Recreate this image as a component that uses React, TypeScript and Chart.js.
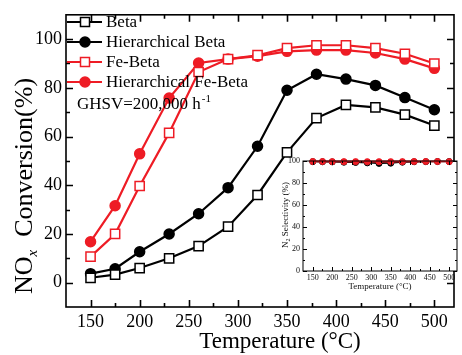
import React, { useEffect, useRef } from 'react';
import { Chart, registerables } from 'chart.js';

Chart.register(...registerables);

const temps = [150, 175, 200, 230, 260, 290, 320, 350, 380, 410, 440, 470, 500];
const seriesNames = ['Beta', 'Hierarchical Beta', 'Fe-Beta', 'Hierarchical Fe-Beta'];
const beta = [2, 3.3, 6, 10, 15, 23, 36, 53.5, 67.6, 73, 72, 69, 64.5];
const hierBeta = [3.7, 5.7, 12.7, 20, 28.3, 39, 56, 79, 85.6, 83.6, 81, 76, 71];
const feBeta = [10.7, 20, 39.7, 61.5, 86.5, 91.8, 93.4, 96.3, 97.5, 97.5, 96.3, 94, 90];
const hierFeBeta = [16.8, 31.6, 52.9, 75.8, 90.2, 91.8, 93, 95, 95.5, 95.5, 94.3, 91.8, 88];

const selBeta = [99.6, 99.5, 99.4, 99.3, 99.2, 99.0, 98.8, 98.9, 99.2, 99.4, 99.5, 99.6, 99.6];
const selHierBeta = [99.4, 99.3, 99.2, 98.9, 98.7, 98.3, 97.8, 98.0, 98.9, 99.3, 99.4, 99.5, 99.5];
const selFeBeta = [99.8, 99.8, 99.8, 99.8, 99.8, 99.8, 99.8, 99.8, 99.8, 99.8, 99.8, 99.8, 99.7];
const selHierFeBeta = [99.5, 99.5, 99.4, 99.4, 99.4, 99.3, 99.3, 99.3, 99.4, 99.5, 99.5, 99.5, 99.4];

const xTickValues = [150, 175, 200, 225, 250, 275, 300, 325, 350, 375, 400, 425, 450, 475, 500];
const yTickValues = [0, 10, 20, 30, 40, 50, 60, 70, 80, 90, 100];
const insetYTickValues = [0, 10, 20, 30, 40, 50, 60, 70, 80, 90, 100];

const RED = '#ee1c25';
const BLACK = '#000000';
const SERIF = "'Liberation Serif', 'Times New Roman', serif";

const styles = [
  { color: BLACK, shape: 'rect', filled: false },
  { color: BLACK, shape: 'circle', filled: true },
  { color: RED, shape: 'rect', filled: false },
  { color: RED, shape: 'circle', filled: true },
];

function makeDatasets(values: number[][], lw: number, rectR: number, circR: number, pbw: number, orders: number[]) {
  return values.map((vals, i) => {
    const s = styles[i];
    return {
      label: seriesNames[i],
      data: temps.map((t, k) => ({ x: t, y: vals[k] })),
      borderColor: s.color,
      backgroundColor: s.color,
      borderWidth: lw,
      pointStyle: s.shape,
      pointRadius: s.shape === 'rect' ? rectR : circR,
      pointBackgroundColor: s.filled ? s.color : '#ffffff',
      pointBorderColor: s.color,
      pointBorderWidth: pbw,
      tension: 0,
      order: orders[i],
      clip: false as any,
    };
  });
}

function drawFrame(chart: any, lw: number, major: number, minor: number, xMajorStep: number, yMajorStep: number) {
  const { ctx, chartArea: a, scales } = chart;
  const x = scales.x;
  const y = scales.y;
  ctx.save();
  ctx.strokeStyle = '#000';
  ctx.lineWidth = lw;
  ctx.strokeRect(a.left, a.top, a.right - a.left, a.bottom - a.top);
  ctx.beginPath();
  x.ticks.forEach((t: any) => {
    const px = Math.round(x.getPixelForValue(t.value)) + 0.5;
    const L = t.value % xMajorStep === 0 ? major : minor;
    ctx.moveTo(px, a.bottom);
    ctx.lineTo(px, a.bottom - L);
    ctx.moveTo(px, a.top);
    ctx.lineTo(px, a.top + L);
  });
  y.ticks.forEach((t: any) => {
    const py = Math.round(y.getPixelForValue(t.value)) + 0.5;
    const L = t.value % yMajorStep === 0 ? major : minor;
    ctx.moveTo(a.left, py);
    ctx.lineTo(a.left + L, py);
    ctx.moveTo(a.right, py);
    ctx.lineTo(a.right - L, py);
  });
  ctx.stroke();
  ctx.restore();
}

function drawMarker(ctx: CanvasRenderingContext2D, s: any, cx: number, cy: number, half: number, r: number, lw: number) {
  ctx.save();
  ctx.lineWidth = lw;
  ctx.strokeStyle = s.color;
  ctx.fillStyle = s.filled ? s.color : '#fff';
  ctx.beginPath();
  if (s.shape === 'rect') {
    ctx.rect(cx - half, cy - half, half * 2, half * 2);
  } else {
    ctx.arc(cx, cy, r, 0, Math.PI * 2);
  }
  ctx.fill();
  ctx.stroke();
  ctx.restore();
}

const mainPlugin = {
  id: 'mainDecor',
  afterDraw(chart: any) {
    const ctx: CanvasRenderingContext2D = chart.ctx;
    drawFrame(chart, 1.6, 7, 4, 50, 20);
    const rowsY = [22, 42, 62, 82];
    seriesNames.forEach((name, i) => {
      const s = styles[i];
      const yy = rowsY[i];
      ctx.save();
      ctx.strokeStyle = s.color;
      ctx.lineWidth = 2.2;
      ctx.beginPath();
      ctx.moveTo(67, yy);
      ctx.lineTo(102, yy);
      ctx.stroke();
      ctx.restore();
      drawMarker(ctx, s, 85, yy, 4.5, 5, 1.5);
      ctx.save();
      ctx.fillStyle = '#000';
      ctx.font = `17px ${SERIF}`;
      ctx.textBaseline = 'middle';
      ctx.textAlign = 'left';
      ctx.fillText(name, 106, yy + 1);
      ctx.restore();
    });
    ctx.save();
    ctx.fillStyle = '#000';
    ctx.font = `17px ${SERIF}`;
    ctx.textBaseline = 'middle';
    ctx.textAlign = 'left';
    const g = 'GHSV=200,000 h';
    ctx.fillText(g, 77, 105);
    const gw = ctx.measureText(g).width;
    ctx.font = `11px ${SERIF}`;
    ctx.fillText('-1', 77 + gw + 1, 99);
    ctx.restore();
    ctx.save();
    ctx.fillStyle = '#000';
    ctx.font = `23px ${SERIF}`;
    ctx.textAlign = 'center';
    ctx.textBaseline = 'alphabetic';
    ctx.fillText('Temperature (\u00b0C)', 280, 348);
    ctx.restore();
    ctx.save();
    ctx.translate(32, 186);
    ctx.rotate(-Math.PI / 2);
    ctx.fillStyle = '#000';
    ctx.textBaseline = 'alphabetic';
    ctx.textAlign = 'left';
    const big = `26px ${SERIF}`;
    const sub = `italic 15px ${SERIF}`;
    ctx.font = big;
    const w1 = ctx.measureText('NO').width;
    const w3 = ctx.measureText('  Conversion(%)').width;
    ctx.font = sub;
    const w2 = ctx.measureText('x').width;
    const total = w1 + w2 + w3;
    let cx = -total / 2;
    ctx.font = big;
    ctx.fillText('NO', cx, 0);
    cx += w1;
    ctx.font = sub;
    ctx.fillText('x', cx, 5);
    cx += w2;
    ctx.font = big;
    ctx.fillText('  Conversion(%)', cx, 0);
    ctx.restore();
  },
};

const insetPlugin = {
  id: 'insetDecor',
  beforeDraw(chart: any) {
    const { ctx, chartArea: a } = chart;
    ctx.save();
    ctx.fillStyle = '#fff';
    ctx.fillRect(a.left, a.top, a.right - a.left, a.bottom - a.top);
    ctx.restore();
  },
  afterDraw(chart: any) {
    const ctx: CanvasRenderingContext2D = chart.ctx;
    drawFrame(chart, 1, 4, 2, 50, 20);
    ctx.save();
    ctx.fillStyle = '#111';
    ctx.font = `9px ${SERIF}`;
    ctx.textAlign = 'center';
    ctx.textBaseline = 'middle';
    ctx.fillText('Temperature (\u00b0C)', 110, 137);
    ctx.restore();
    ctx.save();
    ctx.translate(18, 65);
    ctx.rotate(-Math.PI / 2);
    ctx.fillStyle = '#111';
    ctx.textBaseline = 'alphabetic';
    ctx.textAlign = 'left';
    const f1 = `9px ${SERIF}`;
    const f2 = `6px ${SERIF}`;
    ctx.font = f1;
    const a1 = ctx.measureText('N').width;
    const a3 = ctx.measureText(' Selectivity (%)').width;
    ctx.font = f2;
    const a2 = ctx.measureText('2').width;
    let px = -(a1 + a2 + a3) / 2;
    ctx.font = f1;
    ctx.fillText('N', px, 0);
    px += a1;
    ctx.font = f2;
    ctx.fillText('2', px, 2);
    px += a2;
    ctx.font = f1;
    ctx.fillText(' Selectivity (%)', px, 0);
    ctx.restore();
  },
};

export default function App() {
  const mainRef = useRef<HTMLCanvasElement>(null);
  const insetRef = useRef<HTMLCanvasElement>(null);

  useEffect(() => {
    const main = new Chart(mainRef.current as HTMLCanvasElement, {
      type: 'line',
      data: { datasets: makeDatasets([beta, hierBeta, feBeta, hierFeBeta], 2.2, 6.5, 5, 1.5, [0, 1, 2, 3]) as any },
      options: {
        animation: false,
        responsive: false,
        devicePixelRatio: 1,
        layout: { padding: { left: 0, top: 13, right: 4, bottom: 0 } },
        plugins: { legend: { display: false }, tooltip: { enabled: false } },
        scales: {
          x: {
            type: 'linear',
            min: 125,
            max: 520,
            afterBuildTicks: (s: any) => { s.ticks = xTickValues.map((v) => ({ value: v })); },
            afterFit: (s: any) => { s.height = 48; },
            grid: { display: false, drawTicks: false },
            border: { display: false },
            ticks: {
              autoSkip: false,
              maxRotation: 0,
              padding: 4,
              color: '#000',
              font: { family: SERIF, size: 18 },
              callback: (v: any) => (Number(v) % 50 === 0 ? String(v) : ''),
            },
          },
          y: {
            type: 'linear',
            min: -10,
            max: 110,
            afterBuildTicks: (s: any) => { s.ticks = yTickValues.map((v) => ({ value: v })); },
            afterFit: (s: any) => { s.width = 66; },
            grid: { display: false, drawTicks: false },
            border: { display: false },
            ticks: {
              autoSkip: false,
              padding: 4,
              color: '#000',
              font: { family: SERIF, size: 18 },
              callback: (v: any) => (Number(v) % 20 === 0 ? String(v) : ''),
            },
          },
        },
      },
      plugins: [mainPlugin],
    });

    const inset = new Chart(insetRef.current as HTMLCanvasElement, {
      type: 'line',
      data: { datasets: makeDatasets([selBeta, selHierBeta, selFeBeta, selHierFeBeta], 1.3, 2.8, 3, 1, [3, 2, 1, 0]) as any },
      options: {
        animation: false,
        responsive: false,
        devicePixelRatio: 1,
        layout: { padding: { left: 0, top: 11, right: 5, bottom: 0 } },
        plugins: { legend: { display: false }, tooltip: { enabled: false } },
        scales: {
          x: {
            type: 'linear',
            min: 125,
            max: 520,
            afterBuildTicks: (s: any) => { s.ticks = xTickValues.map((v) => ({ value: v })); },
            afterFit: (s: any) => { s.height = 29; },
            grid: { display: false, drawTicks: false },
            border: { display: false },
            ticks: {
              autoSkip: false,
              maxRotation: 0,
              padding: 2,
              color: '#111',
              font: { family: SERIF, size: 8 },
              callback: (v: any) => (Number(v) % 50 === 0 ? String(v) : ''),
            },
          },
          y: {
            type: 'linear',
            min: 0,
            max: 100,
            afterBuildTicks: (s: any) => { s.ticks = insetYTickValues.map((v) => ({ value: v })); },
            afterFit: (s: any) => { s.width = 33; },
            grid: { display: false, drawTicks: false },
            border: { display: false },
            ticks: {
              autoSkip: false,
              padding: 3,
              color: '#111',
              font: { family: SERIF, size: 8 },
              callback: (v: any) => (Number(v) % 20 === 0 ? String(v) : ''),
            },
          },
        },
      },
      plugins: [insetPlugin],
    });

    return () => {
      main.destroy();
      inset.destroy();
    };
  }, []);

  return (
    <div style={{ position: 'absolute', left: 0, top: 0, width: 462, height: 355, background: '#fff' }}>
      <canvas ref={mainRef} width={462} height={355} style={{ position: 'absolute', left: 0, top: 0, width: 462, height: 355 }} />
      <canvas ref={insetRef} width={192} height={150} style={{ position: 'absolute', left: 270, top: 150, width: 192, height: 150 }} />
    </div>
  );
}
